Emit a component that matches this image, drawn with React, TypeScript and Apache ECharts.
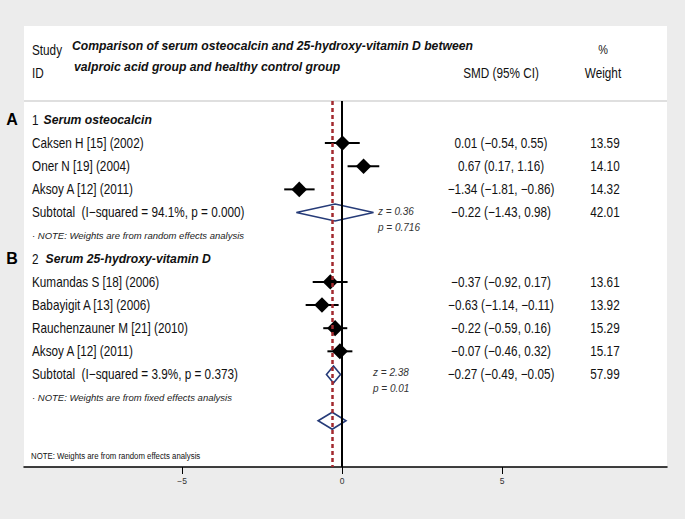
import React, { useEffect, useRef } from "react";
import * as echarts from "echarts";

// ---------- data ----------
const groupLetters = ["A", "B"];
const groupNumbers = ["1", "2"];
const groupTitles = ["Serum osteocalcin", "Serum 25-hydroxy-vitamin D"];

const studiesA = ["Caksen H [15] (2002)", "Oner N [19] (2004)", "Aksoy A [12] (2011)"];
const smdA = [0.01, 0.67, -1.34];
const lowA = [-0.54, 0.17, -1.81];
const highA = [0.55, 1.16, -0.86];
const weightA = [13.59, 14.1, 14.32];

const studiesB = [
  "Kumandas S [18] (2006)",
  "Babayigit A [13] (2006)",
  "Rauchenzauner M [21] (2010)",
  "Aksoy A [12] (2011)",
];
const smdB = [-0.37, -0.63, -0.22, -0.07];
const lowB = [-0.92, -1.14, -0.59, -0.46];
const highB = [0.17, -0.11, 0.16, 0.32];
const weightB = [13.61, 13.92, 15.29, 15.17];

const subtotalLabels = [
  "Subtotal  (I\u2212squared = 94.1%, p = 0.000)",
  "Subtotal  (I\u2212squared = 3.9%, p = 0.373)",
];
const subtotalSmd = [-0.22, -0.27];
const subtotalLow = [-1.43, -0.49];
const subtotalHigh = [0.98, -0.05];
const subtotalWeight = [42.01, 57.99];
const zTexts = ["z = 0.36", "z = 2.38"];
const pTexts = ["p = 0.716", "p = 0.01"];
const groupNotes = [
  "\u00b7 NOTE: Weights are from random effects analysis",
  "\u00b7 NOTE: Weights are from fixed effects analysis",
];

const overallSmd = -0.31;
const overallLow = -0.75;
const overallHigh = 0.12;
const footNote = "NOTE: Weights are from random effects analysis";
const xTicks = [-5, 0, 5];

// ---------- layout ----------
const ARIAL = "'Liberation Sans', Arial, sans-serif";
const NARROW_SX = 0.84; // horizontal squeeze to imitate a condensed face
const COL_NAME = 32;
const COL_EFFECT = 501;
const COL_WEIGHT = 605;
const zTextX = [378, 373];

const fmt = (v: number) => (v < 0 ? "\u2212" : "") + Math.abs(v).toFixed(2);
const effText = (e: number, l: number, h: number) => `${fmt(e)} (${fmt(l)}, ${fmt(h)})`;

type TextItem = {
  row: number;
  x: number;
  text: string;
  font: string;
  align?: string;
  dy?: number;
  color?: string;
  sx?: number;
};

function buildRows() {
  const texts: TextItem[] = [];
  const points: number[][] = [];
  const diamonds: number[][] = [];
  const groups = [
    { names: studiesA, smd: smdA, lo: lowA, hi: highA, w: weightA },
    { names: studiesB, smd: smdB, lo: lowB, hi: highB, w: weightB },
  ];
  const body = `14px ${ARIAL}`;
  let r = 0;
  groups.forEach((g, gi) => {
    texts.push({ row: r, x: 12, text: groupLetters[gi], font: `bold 16px ${ARIAL}`, align: "center", color: "#000" });
    texts.push({ row: r, x: COL_NAME, text: groupNumbers[gi], font: body, sx: NARROW_SX });
    texts.push({ row: r, x: gi === 0 ? 43.5 : 45.5, text: groupTitles[gi], font: `italic bold 12.2px ${ARIAL}` });
    r++;
    g.names.forEach((n, i) => {
      texts.push({ row: r, x: COL_NAME, text: n, font: body, sx: NARROW_SX });
      texts.push({ row: r, x: COL_EFFECT, text: effText(g.smd[i], g.lo[i], g.hi[i]), font: body, align: "center", sx: NARROW_SX });
      texts.push({ row: r, x: COL_WEIGHT, text: g.w[i].toFixed(2), font: body, align: "center", sx: NARROW_SX });
      points.push([g.smd[i], g.lo[i], g.hi[i], r, g.w[i]]);
      r++;
    });
    texts.push({ row: r, x: COL_NAME, text: subtotalLabels[gi], font: body, sx: NARROW_SX });
    texts.push({
      row: r,
      x: COL_EFFECT,
      text: effText(subtotalSmd[gi], subtotalLow[gi], subtotalHigh[gi]),
      font: body,
      align: "center",
      sx: NARROW_SX,
    });
    texts.push({ row: r, x: COL_WEIGHT, text: subtotalWeight[gi].toFixed(2), font: body, align: "center", sx: NARROW_SX });
    texts.push({ row: r, x: zTextX[gi], text: zTexts[gi], font: `italic 10px ${ARIAL}`, dy: -1.5, color: "#333" });
    texts.push({ row: r, x: zTextX[gi], text: pTexts[gi], font: `italic 10px ${ARIAL}`, dy: 14.5, color: "#333" });
    diamonds.push([subtotalSmd[gi], subtotalLow[gi], subtotalHigh[gi], r]);
    r++;
    texts.push({ row: r, x: 32, text: groupNotes[gi], font: `italic 9.5px ${ARIAL}`, color: "#222" });
    r++;
  });
  diamonds.push([overallSmd, overallLow, overallHigh, r]);
  texts.push({ row: r + 1.5, x: 31, text: footNote, font: `9.3px ${ARIAL}`, color: "#111", sx: NARROW_SX });
  return { texts, points, diamonds };
}

const headerText = (x: number, y: number, text: string, size: number, align = "left") => ({
  type: "text",
  x,
  y,
  scaleX: NARROW_SX,
  style: { text, font: `${size}px ${ARIAL}`, fill: "#111", textAlign: align, textVerticalAlign: "middle" },
});

export default function App() {
  const ref = useRef<HTMLDivElement>(null);
  useEffect(() => {
    document.body.style.margin = "0";
    if (!ref.current) return;
    const chart = echarts.init(ref.current, null, { renderer: "svg" });
    const { texts, points, diamonds } = buildRows();

    const option: any = {
      animation: false,
      backgroundColor: "#ececec",
      grid: { left: 24, right: 18, top: 101, bottom: 52 },
      xAxis: {
        type: "value",
        min: -9.94,
        max: 10.15,
        splitLine: { show: false },
        axisLine: { onZero: false, lineStyle: { color: "#000", width: 1.5 } },
        axisTick: { customValues: xTicks, length: 7, lineStyle: { color: "#000", width: 1 } },
        axisLabel: {
          customValues: xTicks,
          margin: 9,
          fontSize: 8.5,
          fontFamily: ARIAL,
          color: "#333",
          formatter: (v: number) => (v < 0 ? "\u2212" + Math.abs(v) : String(v)),
        },
      },
      yAxis: { type: "value", inverse: true, min: -0.82, max: 15, show: false },
      graphic: [
        { type: "rect", z: -10, shape: { x: 24, y: 26, width: 643, height: 441 }, style: { fill: "#fff" } },
        { type: "line", z: -5, shape: { x1: 24, y1: 101, x2: 667, y2: 101 }, style: { stroke: "#d4d4d4", lineWidth: 1.5 } },
        headerText(32, 50, "Study", 14),
        headerText(32, 73, "ID", 14),
        {
          type: "text",
          x: 72,
          y: 46,
          style: {
            text: "Comparison of serum osteocalcin and 25-hydroxy-vitamin D between",
            font: `italic bold 12.2px ${ARIAL}`,
            fill: "#111",
            textVerticalAlign: "middle",
          },
        },
        {
          type: "text",
          x: 74,
          y: 67,
          style: {
            text: "valproic acid group and healthy control group",
            font: `italic bold 12.2px ${ARIAL}`,
            fill: "#111",
            textVerticalAlign: "middle",
          },
        },
        headerText(COL_WEIGHT - 2, 50, "%", 13, "center"),
        headerText(COL_EFFECT, 73, "SMD (95% CI)", 14, "center"),
        headerText(COL_WEIGHT - 2, 73, "Weight", 14, "center"),
      ],
      series: [
        {
          type: "custom",
          name: "refLines",
          z: 1,
          data: [[0, 0]],
          encode: { x: 0, y: 1 },
          renderItem: () => ({ type: "group", children: [] }),
          markLine: {
            silent: true,
            symbol: "none",
            label: { show: false },
            data: [
              { xAxis: 0, lineStyle: { color: "#000", width: 2, type: "solid" } },
              { xAxis: overallSmd, lineStyle: { color: "#a3292e", width: 2.5, type: [4, 3] } },
            ],
          },
        },
        {
          type: "custom",
          name: "studies",
          z: 3,
          data: points,
          encode: { x: 0, y: 3 },
          renderItem: (params: any, api: any) => {
            const est = api.value(0), lo = api.value(1), hi = api.value(2), row = api.value(3), w = api.value(4);
            const c = api.coord([est, row]);
            const l = api.coord([lo, row]);
            const h = api.coord([hi, row]);
            const s = 7.8 * Math.sqrt(w / 14.3);
            return {
              type: "group",
              children: [
                { type: "line", shape: { x1: l[0], y1: c[1], x2: h[0], y2: c[1] }, style: { stroke: "#000", lineWidth: 2 } },
                {
                  type: "polygon",
                  shape: { points: [[c[0], c[1] - s], [c[0] + s, c[1]], [c[0], c[1] + s], [c[0] - s, c[1]]] },
                  style: { fill: "#000" },
                },
              ],
            };
          },
        },
        {
          type: "custom",
          name: "pooled",
          z: 3,
          data: diamonds,
          encode: { x: 0, y: 3 },
          renderItem: (params: any, api: any) => {
            const est = api.value(0), lo = api.value(1), hi = api.value(2), row = api.value(3);
            const c = api.coord([est, row]);
            const l = api.coord([lo, row]);
            const h = api.coord([hi, row]);
            const hh = 8.5;
            return {
              type: "polygon",
              shape: { points: [[l[0], c[1]], [c[0], c[1] - hh], [h[0], c[1]], [c[0], c[1] + hh]] },
              style: { fill: "none", stroke: "#263b78", lineWidth: 1.6 },
            };
          },
        },
        {
          type: "custom",
          name: "table",
          z: 4,
          data: texts.map((t) => [0, t.row]),
          encode: { x: 0, y: 1 },
          renderItem: (params: any, api: any) => {
            const t = texts[params.dataIndex];
            const y = api.coord([0, t.row])[1] + (t.dy || 0);
            return {
              type: "text",
              x: t.x,
              y,
              scaleX: t.sx || 1,
              style: {
                text: t.text,
                font: t.font,
                fill: t.color || "#111",
                textAlign: t.align || "left",
                textVerticalAlign: "middle",
              },
            };
          },
        },
      ],
    };
    chart.setOption(option);
    return () => chart.dispose();
  }, []);
  return <div ref={ref} style={{ width: 685, height: 519 }} />;
}
